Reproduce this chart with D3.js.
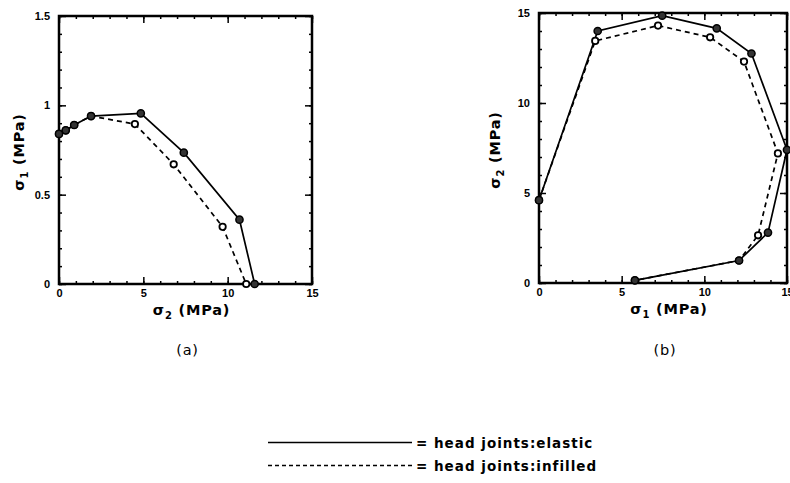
<!DOCTYPE html>
<html>
<head>
<meta charset="utf-8">
<script src="https://cdnjs.cloudflare.com/ajax/libs/d3/7.8.5/d3.min.js"></script>
<style>
  body { margin: 0; background: #fff; }
  svg { display: block; font-family: "DejaVu Sans", sans-serif; }
  .tick text { font-size: 11px; font-weight: bold; fill: #000; }
  .tick line { stroke: #000; stroke-width: 1.5; }
  .lbl { font-size: 14.5px; font-weight: bold; fill: #000; letter-spacing: 0.8px; }
</style>
</head>
<body>
<div id="container"></div>
<script>
// panel (a): sigma_2 vs sigma_1
var aElasticX = [0, 0.4, 0.9, 1.9, 4.85, 7.4, 10.7, 11.6];
var aElasticY = [0.84, 0.86, 0.89, 0.94, 0.955, 0.735, 0.36, 0];
var aInfilledX = [0, 0.4, 0.9, 1.9, 4.5, 6.8, 9.7, 11.1];
var aInfilledY = [0.84, 0.86, 0.89, 0.94, 0.895, 0.67, 0.32, 0];
var aXTicks = [0, 5, 10, 15];
var aYTicks = [0, 0.5, 1, 1.5];

// panel (b): sigma_1 vs sigma_2
var bElasticX = [0, 3.55, 7.45, 10.75, 12.85, 15.0, 13.85, 12.1, 5.8];
var bElasticY = [4.6, 14.0, 14.85, 14.15, 12.75, 7.4, 2.8, 1.25, 0.15];
var bInfilledX = [0, 3.4, 7.2, 10.35, 12.4, 14.45, 13.25, 12.1, 5.8];
var bInfilledY = [4.6, 13.45, 14.3, 13.65, 12.3, 7.2, 2.65, 1.25, 0.15];
var bXTicks = [0, 5, 10, 15];
var bYTicks = [0, 5, 10, 15];

var legendLabels = ["= head joints:elastic", "= head joints:infilled"];

var w = 790, h = 483;

var svg = d3.select("#container")
	.append("svg")
	.attr("width", w)
	.attr("height", h);

function zip(xs, ys){
	return xs.map(function(x, i){ return [x, ys[i]]; });
}

function drawPanel(cfg){
	var x = d3.scaleLinear().domain([0, 15]).range([cfg.left, cfg.right]);
	var y = d3.scaleLinear().domain(cfg.yDomain).range([cfg.bottom, cfg.top]);
	var g = svg.append("g");

	// minor ticks, all four sides, pointing in
	var xMinor = d3.range(0, 15.001, 1);
	var yMinor = d3.range(cfg.yDomain[0], cfg.yDomain[1] + 1e-6, cfg.yMinorStep);

	g.append("g").attr("transform", "translate(0," + cfg.bottom + ")")
		.call(d3.axisBottom(x).tickValues(xMinor).tickFormat("").tickSizeInner(-3).tickSizeOuter(0));
	g.append("g").attr("transform", "translate(0," + cfg.top + ")")
		.call(d3.axisTop(x).tickValues(xMinor).tickFormat("").tickSizeInner(-3).tickSizeOuter(0));
	g.append("g").attr("transform", "translate(" + cfg.left + ",0)")
		.call(d3.axisLeft(y).tickValues(yMinor).tickFormat("").tickSizeInner(-3).tickSizeOuter(0));
	g.append("g").attr("transform", "translate(" + cfg.right + ",0)")
		.call(d3.axisRight(y).tickValues(yMinor).tickFormat("").tickSizeInner(-3).tickSizeOuter(0));

	// major ticks
	g.append("g").attr("transform", "translate(0," + cfg.bottom + ")")
		.call(d3.axisBottom(x).tickValues(cfg.xTicks).tickFormat(d3.format("")).tickSizeInner(-7).tickSizeOuter(0).tickPadding(5));
	g.append("g").attr("transform", "translate(0," + cfg.top + ")")
		.call(d3.axisTop(x).tickValues(cfg.xTicks).tickFormat("").tickSizeInner(-7).tickSizeOuter(0));
	g.append("g").attr("transform", "translate(" + cfg.left + ",0)")
		.call(d3.axisLeft(y).tickValues(cfg.yTicks).tickFormat(d3.format("")).tickSizeInner(-7).tickSizeOuter(0).tickPadding(9));
	g.append("g").attr("transform", "translate(" + cfg.right + ",0)")
		.call(d3.axisRight(y).tickValues(cfg.yTicks).tickFormat("").tickSizeInner(-7).tickSizeOuter(0));

	g.selectAll(".domain").remove();

	// frame
	g.append("rect")
		.attr("x", cfg.left).attr("y", cfg.top)
		.attr("width", cfg.right - cfg.left).attr("height", cfg.bottom - cfg.top)
		.attr("fill", "none").attr("stroke", "#000").attr("stroke-width", 2.5);

	var line = d3.line()
		.x(function(d){ return x(d[0]); })
		.y(function(d){ return y(d[1]); });

	var infilled = zip(cfg.infX, cfg.infY);
	var elastic = zip(cfg.elX, cfg.elY);

	g.append("path").datum(infilled)
		.attr("d", line).attr("fill", "none")
		.attr("stroke", "#000").attr("stroke-width", 1.7)
		.attr("stroke-dasharray", "5,4");
	g.append("path").datum(elastic)
		.attr("d", line).attr("fill", "none")
		.attr("stroke", "#000").attr("stroke-width", 1.7);

	g.selectAll("circle.inf").data(infilled).enter()
		.append("circle").attr("class", "inf")
		.attr("cx", function(d){ return x(d[0]); })
		.attr("cy", function(d){ return y(d[1]); })
		.attr("r", 3.2)
		.attr("fill", "#fff").attr("stroke", "#000").attr("stroke-width", 1.8);
	g.selectAll("circle.el").data(elastic).enter()
		.append("circle").attr("class", "el")
		.attr("cx", function(d){ return x(d[0]); })
		.attr("cy", function(d){ return y(d[1]); })
		.attr("r", 3.6)
		.attr("fill", "#333").attr("stroke", "#000").attr("stroke-width", 1.5);

	// axis titles
	var xt = svg.append("text").attr("class", "lbl")
		.attr("x", (cfg.left + cfg.right) / 2 + 6).attr("y", cfg.bottom + 31)
		.attr("text-anchor", "middle");
	xt.append("tspan").text("\u03c3");
	xt.append("tspan").attr("dy", 4).style("font-size", "10px").text(cfg.xSub);
	xt.append("tspan").attr("dy", -4).text("  (MPa)");

	var yt = svg.append("text").attr("class", "lbl")
		.attr("transform", "translate(" + cfg.yTitleX + "," + ((cfg.top + cfg.bottom) / 2 + 2) + ") rotate(-90)")
		.attr("text-anchor", "middle");
	yt.append("tspan").text("\u03c3");
	yt.append("tspan").attr("dy", 4).style("font-size", "10px").text(cfg.ySub);
	yt.append("tspan").attr("dy", -4).text("  (MPa)");

	svg.append("text").attr("class", "lbl")
		.attr("x", (cfg.left + cfg.right) / 2 + 2).attr("y", 355)
		.attr("text-anchor", "middle")
		.style("font-weight", "normal")
		.text(cfg.tag);
}

drawPanel({
	left: 59, right: 312, top: 16, bottom: 284,
	yDomain: [0, 1.5], yMinorStep: 0.1,
	xTicks: aXTicks, yTicks: aYTicks,
	elX: aElasticX, elY: aElasticY, infX: aInfilledX, infY: aInfilledY,
	xSub: "2", ySub: "1", yTitleX: 24, tag: "(a)"
});

drawPanel({
	left: 539, right: 787, top: 13, bottom: 283,
	yDomain: [0, 15], yMinorStep: 1,
	xTicks: bXTicks, yTicks: bYTicks,
	elX: bElasticX, elY: bElasticY, infX: bInfilledX, infY: bInfilledY,
	xSub: "1", ySub: "2", yTitleX: 500, tag: "(b)"
});

// legend
var legY = d3.scaleBand().domain(legendLabels).range([431, 477]);
var leg = svg.append("g");
leg.selectAll("line").data(legendLabels).enter()
	.append("line")
	.attr("x1", 268).attr("x2", 412)
	.attr("y1", function(d){ return legY(d) + legY.bandwidth() / 2; })
	.attr("y2", function(d){ return legY(d) + legY.bandwidth() / 2; })
	.attr("stroke", "#000").attr("stroke-width", 1.5)
	.attr("stroke-dasharray", function(d, i){ return i === 1 ? "4,3" : null; });
leg.selectAll("text").data(legendLabels).enter()
	.append("text").attr("class", "lbl")
	.attr("x", 416)
	.attr("y", function(d){ return legY(d) + legY.bandwidth() / 2 + 5; })
	.style("font-size", "13.5px")
	.style("letter-spacing", "1px")
	.text(function(d){ return d; });
</script>
</body>
</html>
